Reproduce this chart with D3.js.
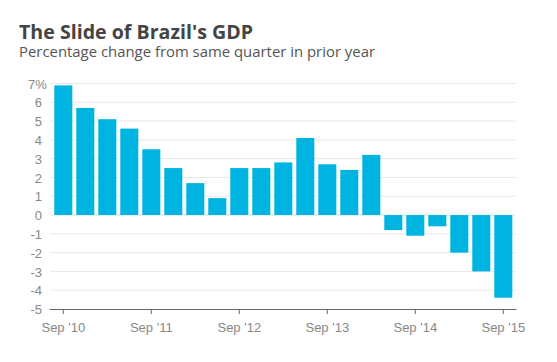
<!DOCTYPE html>
<html>
<head>
<meta charset="utf-8">
<script src="https://cdn.jsdelivr.net/npm/d3@7"></script>
<style>
  body { margin: 0; background: #fff; }
  svg { display: block; font-family: Roboto, "Open Sans", sans-serif; }
  .title { font-family: "Open Sans", sans-serif; font-size: 19.6px; font-weight: bold; fill: #444; }
  .subtitle { font-family: "Open Sans", sans-serif; font-size: 14.9px; fill: #555; }
  .tick text { font-size: 13px; fill: #888; }
</style>
</head>
<body>
<svg id="chart" width="557" height="362"></svg>
<script>
// quarterly, year-over-year change
const quarters = [
  'Sep 10', 'Dec 10', 'Mar 11', 'Jun 11', 'Sep 11', 'Dec 11', 'Mar 12',
  'Jun 12', 'Sep 12', 'Dec 12', 'Mar 13', 'Jun 13', 'Sep 13', 'Dec 13',
  'Mar 14', 'Jun 14', 'Sep 14', 'Dec 14', 'Mar 15', 'Jun 15', 'Sep 15',
];
const gdpChange = [
  6.9, 5.7, 5.1, 4.6, 3.5, 2.5, 1.7, 0.9, 2.5, 2.5, 2.8, 4.1, 2.7, 2.4,
  3.2, -0.8, -1.1, -0.6, -2.0, -3.0, -4.4,
];
const yTicks = [7, 6, 5, 4, 3, 2, 1, 0, -1, -2, -3, -4, -5];
const xTicks = ['Sep 10', 'Sep 11', 'Sep 12', 'Sep 13', 'Sep 14', 'Sep 15'];

const barColor = '#00b4e1';

var svg = d3.select('#chart');

svg.append('text').attr('class', 'title')
  .attr('x', 19).attr('y', 39)
  .text("The Slide of Brazil's GDP");
svg.append('text').attr('class', 'subtitle')
  .attr('x', 19).attr('y', 57)
  .text('Percentage change from same quarter in prior year');

var x = d3.scaleBand()
  .domain(quarters)
  .range([52.3, 514.3])
  .paddingInner(0.18)
  .paddingOuter(0.09);

var y = d3.scaleLinear().domain([-5, 7]).range([309, 83.5]);

// gridlines
svg.append('g')
  .selectAll('line')
  .data(yTicks.filter((t) => t > -5))
  .join('line')
  .attr('x1', 50).attr('x2', 516)
  .attr('y1', (d) => y(d)).attr('y2', (d) => y(d))
  .attr('stroke', '#e8e8e8')
  .attr('stroke-width', 1);

// y axis labels
var yAxis = svg.append('g')
  .attr('transform', 'translate(42,0)')
  .call(d3.axisLeft(y).tickValues(yTicks).tickSize(0).tickPadding(0)
    .tickFormat((d) => d));
yAxis.select('.domain').remove();
yAxis.selectAll('.tick text').attr('dy', '0.36em');
// the top label carries the unit, sticking out past the column
yAxis.selectAll('.tick')
  .filter((d) => d === 7)
  .select('text')
  .attr('text-anchor', 'start')
  .attr('x', -14)
  .text('7%');

// bars
svg.append('g')
  .selectAll('rect')
  .data(gdpChange)
  .join('rect')
  .attr('x', (d, i) => x(quarters[i]))
  .attr('width', x.bandwidth())
  .attr('y', (d) => y(Math.max(0, d)))
  .attr('height', (d) => Math.abs(y(d) - y(0)))
  .attr('fill', barColor);

// x axis
var xAxis = svg.append('g')
  .attr('transform', `translate(0,${y(-5)})`)
  .call(d3.axisBottom(x).tickValues(xTicks).tickSize(5).tickPadding(9)
    .tickSizeOuter(0)
    .tickFormat((d) => d.replace(' ', " '")));
xAxis.select('.domain')
  .attr('d', 'M49.5,0.5H516.5')
  .attr('stroke', '#666');
xAxis.selectAll('.tick line').attr('stroke', '#666');
</script>
</body>
</html>
